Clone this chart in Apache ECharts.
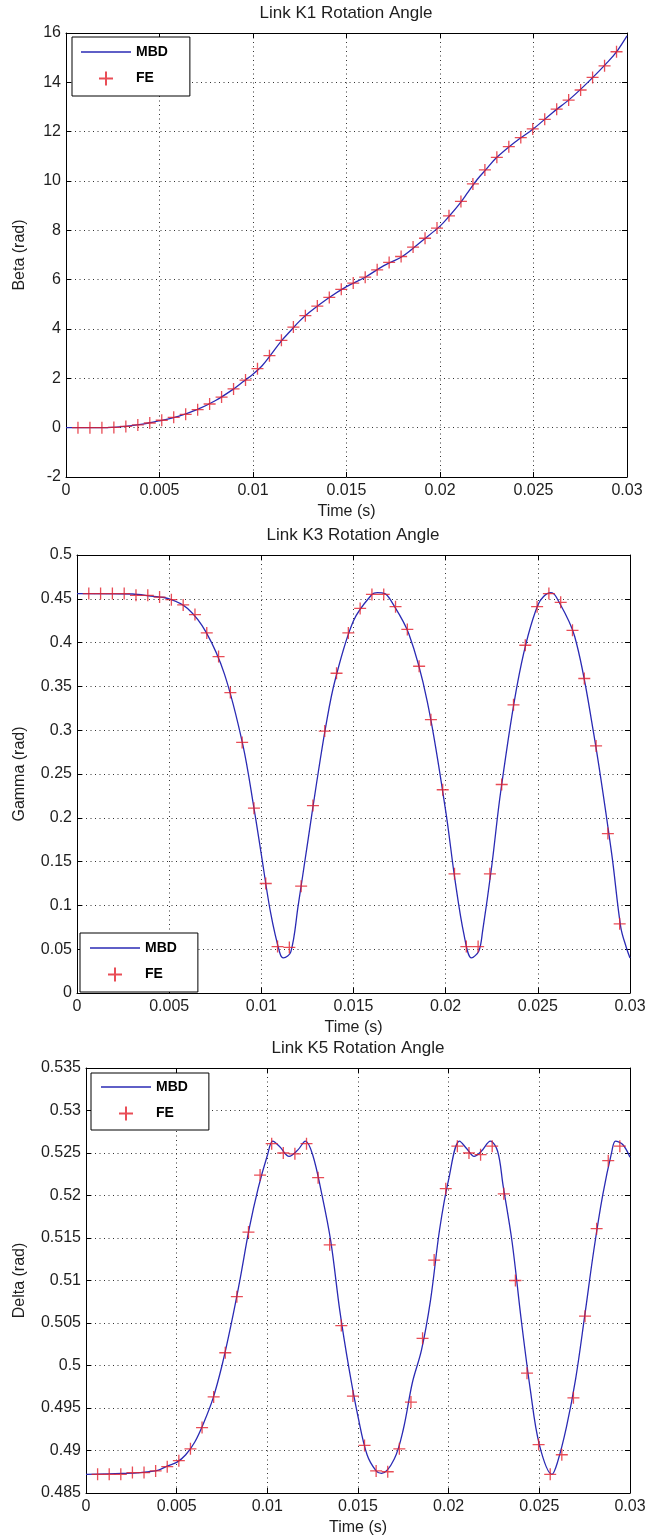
<!DOCTYPE html>
<html>
<head>
<meta charset="utf-8">
<script src="https://cdn.jsdelivr.net/npm/echarts@6/dist/echarts.min.js"></script>
<style>
html,body{margin:0;padding:0;background:#fff;}
#c{width:662px;height:1537px;}
</style>
</head>
<body>
<div id="c"></div>
<script>
// ---------- data ----------
const titles = ['Link K1 Rotation Angle', 'Link K3 Rotation Angle', 'Link K5 Rotation Angle'];
const yNames = ['Beta (rad)', 'Gamma (rad)', 'Delta (rad)'];
const xName = 'Time (s)';

// FE sample times (s)
const feTime = [0.00064,0.00128,0.00192,0.00256,0.0032,0.00384,0.00448,0.00512,0.00576,0.0064,
  0.00704,0.00768,0.00832,0.00896,0.0096,0.01024,0.01088,0.01152,0.01216,0.0128,
  0.01344,0.01408,0.01472,0.01536,0.016,0.01664,0.01728,0.01792,0.01856,0.0192,
  0.01984,0.02048,0.02112,0.02176,0.0224,0.02304,0.02368,0.02432,0.02496,0.0256,
  0.02624,0.02688,0.02752,0.02816,0.0288,0.02944];

const feBeta = [0.00,0.00,0.00,0.01,0.05,0.11,0.19,0.30,0.42,0.54,
  0.73,0.96,1.24,1.57,1.93,2.39,2.92,3.54,4.08,4.54,
  4.93,5.28,5.61,5.86,6.10,6.40,6.70,6.94,7.32,7.68,
  8.09,8.59,9.17,9.88,10.45,10.96,11.39,11.76,12.11,12.50,
  12.91,13.28,13.69,14.20,14.67,15.24];

const feGamma = [0.456,0.456,0.456,0.456,0.454,0.454,0.452,0.449,0.443,0.432,
  0.411,0.384,0.343,0.286,0.211,0.125,0.053,0.052,0.122,0.214,
  0.299,0.365,0.411,0.439,0.455,0.455,0.441,0.415,0.373,0.312,
  0.232,0.136,0.053,0.053,0.136,0.238,0.329,0.397,0.441,0.456,
  0.446,0.414,0.359,0.282,0.182,0.079];

const feDelta = [0.4872,0.4872,0.4872,0.4874,0.4874,0.4876,0.4881,0.4888,0.4902,0.4927,
  0.4963,0.5015,0.5081,0.5157,0.5224,0.5261,0.5250,0.5249,0.5261,0.5221,
  0.5142,0.5047,0.4964,0.4906,0.4876,0.4875,0.4902,0.4957,0.5032,0.5124,
  0.5208,0.5258,0.5250,0.5248,0.5258,0.5202,0.5100,0.4991,0.4907,0.4872,
  0.4895,0.4962,0.5058,0.5161,0.5241,0.5258];

// MBD curves
const mbdTime1 = [0,0.001,0.002,0.003,0.004,0.005,0.006,0.007,0.008,0.009,
  0.0095,0.010,0.0105,0.011,0.0115,0.012,0.0125,0.013,0.014,0.015,
  0.016,0.017,0.018,0.019,0.020,0.0205,0.021,0.0215,0.022,0.0225,
  0.023,0.024,0.025,0.026,0.027,0.028,0.029,0.0295,0.030];
const mbdBeta = [0,0,0,0.04,0.13,0.28,0.46,0.73,1.10,1.59,
  1.88,2.17,2.52,3.00,3.50,3.92,4.33,4.67,5.24,5.72,
  6.10,6.57,6.95,7.55,8.17,8.58,9.03,9.55,10.07,10.50,
  10.93,11.57,12.12,12.76,13.36,14.07,14.85,15.30,15.88];

const mbdTime2 = [0,0.003,0.004,0.005,0.006,0.007,0.008,0.009,0.0096,0.010,
  0.0105,0.011,0.0112,0.0116,0.012,0.0125,0.013,0.0135,0.014,0.015,
  0.016,0.0163,0.0167,0.017,0.018,0.019,0.020,0.0205,0.021,0.0214,
  0.0218,0.022,0.0225,0.023,0.024,0.025,0.0257,0.026,0.027,0.028,
  0.029,0.0295,0.0298,0.030];
const mbdGamma = [0.456,0.4555,0.453,0.450,0.439,0.412,0.364,0.283,0.211,0.158,
  0.092,0.046,0.040,0.047,0.10,0.17,0.24,0.305,0.357,0.425,
  0.455,0.457,0.456,0.449,0.41,0.333,0.208,0.13,0.066,0.040,
  0.048,0.07,0.145,0.232,0.365,0.443,0.457,0.452,0.407,0.30,
  0.16,0.075,0.052,0.040];

const mbdTime3 = [0,0.002,0.003,0.004,0.0045,0.005,0.0055,0.006,0.0065,0.007,
  0.0075,0.008,0.0085,0.009,0.0095,0.010,0.0103,0.0107,0.0112,0.0117,
  0.0121,0.0125,0.013,0.0135,0.014,0.0145,0.015,0.0155,0.016,0.0163,
  0.017,0.0175,0.018,0.0185,0.019,0.0195,0.020,0.0206,0.0210,0.0214,
  0.0218,0.0223,0.0227,0.023,0.0235,0.024,0.0245,0.025,0.0257,0.026,
  0.0265,0.027,0.0275,0.028,0.0285,0.029,0.0292,0.0296,0.030];
const mbdDelta = [0.4872,0.4873,0.4874,0.4877,0.4882,0.4886,0.4895,0.4910,0.4933,0.4961,
  0.5000,0.5048,0.5102,0.5161,0.5209,0.5247,0.5264,0.5257,0.5246,0.5254,
  0.5264,0.5248,0.5202,0.5146,0.5064,0.4997,0.4940,0.4895,0.4876,0.4873,
  0.4890,0.4925,0.4980,0.5018,0.5077,0.5160,0.5219,0.5264,0.5255,0.5246,
  0.5252,0.5264,0.5252,0.5212,0.5145,0.5054,0.4972,0.4907,0.4872,0.4886,
  0.4928,0.4984,0.5058,0.5135,0.5201,0.5252,0.5264,0.5260,0.5245];

// axis ranges
const xRange = {min: 0, max: 0.03, interval: 0.005};
const yRanges = [
  {min: -2, max: 16, interval: 2},
  {min: 0, max: 0.5, interval: 0.05},
  {min: 0.485, max: 0.535, interval: 0.005}
];

// ---------- layout ----------
const FONT = '"Liberation Sans", Arial, Helvetica, sans-serif';
const TXT = '#1e1e1e';
const grids = [
  {left: 66, top: 33, width: 561, height: 444},
  {left: 77, top: 555, width: 553, height: 438},
  {left: 86, top: 1068, width: 544, height: 426}
];
const titlePos = [[346, 13], [353, 535], [358, 1048]];
const yNameGap = [38, 49, 58];
const legendPos = [
  {left: 72, top: 37, padding: [8, 22, 8, 9]},
  {left: 80, top: 933, padding: [8, 21, 8, 10]},
  {left: 91, top: 1073, padding: [7, 21, 7, 10]}
];

const fmt = v => String(+(+v).toFixed(4));
const zip = (a, b) => a.map((t, i) => [t, b[i]]);
const feSeries = [feBeta, feGamma, feDelta];
const mbdSeries = [zip(mbdTime1, mbdBeta), zip(mbdTime2, mbdGamma), zip(mbdTime3, mbdDelta)];

const xAxis = [], yAxis = [], series = [], legend = [], graphic = [];
const dotted = {show: true, lineStyle: {color: '#333', width: 1, type: [1, 3.5]}};
const axLine = {show: true, onZero: false, lineStyle: {color: '#000', width: 1}};
const tick = {show: true, inside: true, length: 5, lineStyle: {color: '#000', width: 1}};
const LINE_C = '#2a2ab4';

for (let i = 0; i < 3; i++) {
  xAxis.push(Object.assign({
    type: 'value', gridIndex: i, position: 'bottom',
    name: xName, nameLocation: 'middle', nameGap: 27,
    nameTextStyle: {fontFamily: FONT, fontSize: 16, color: TXT},
    axisLine: axLine, axisTick: tick, splitLine: dotted,
    axisLabel: {fontFamily: FONT, fontSize: 16, color: TXT, margin: 6, formatter: fmt}
  }, xRange));
  xAxis.push(Object.assign({
    type: 'value', gridIndex: i, position: 'top',
    axisLine: axLine, axisTick: tick, splitLine: {show: false}, axisLabel: {show: false}
  }, xRange));
  yAxis.push(Object.assign({
    type: 'value', gridIndex: i, position: 'left',
    name: yNames[i], nameLocation: 'middle', nameGap: yNameGap[i],
    nameTextStyle: {fontFamily: FONT, fontSize: 16, color: TXT},
    axisLine: axLine, axisTick: tick, splitLine: dotted,
    axisLabel: {fontFamily: FONT, fontSize: 16, color: TXT, margin: 5, formatter: fmt}
  }, yRanges[i]));
  yAxis.push(Object.assign({
    type: 'value', gridIndex: i, position: 'right',
    axisLine: axLine, axisTick: tick, splitLine: {show: false}, axisLabel: {show: false}
  }, yRanges[i]));

  series.push({
    name: 'MBD', type: 'line', xAxisIndex: 2 * i, yAxisIndex: 2 * i,
    data: mbdSeries[i], symbol: 'none', showSymbol: false, smooth: 0.35, z: 3,
    lineStyle: {color: LINE_C, width: 1.3}, itemStyle: {color: LINE_C}
  });
  series.push({
    name: 'FE', type: 'scatter', xAxisIndex: 2 * i, yAxisIndex: 2 * i,
    data: zip(feTime, feSeries[i]),
    symbol: 'path://M0 6L12 6M6 0L6 12', symbolSize: 12, symbolKeepAspect: true, z: 4,
    itemStyle: {color: 'none', borderColor: '#e4202c', borderWidth: 1.3}
  });

  legend.push({
    orient: 'vertical', left: legendPos[i].left, top: legendPos[i].top,
    padding: legendPos[i].padding, itemGap: 10, itemWidth: 50, itemHeight: 14,
    backgroundColor: '#fff', borderColor: '#000', borderWidth: 1, borderRadius: 0,
    selectedMode: false, symbolKeepAspect: true,
    data: [
      {name: 'MBD', icon: 'path://M0 0H50V1.3H0Z', itemStyle: {color: LINE_C, borderWidth: 0}},
      {name: 'FE'}
    ],
    textStyle: {fontFamily: FONT, fontSize: 14, fontWeight: 'bold', color: '#000'}
  });

  graphic.push({
    type: 'text', x: titlePos[i][0], y: titlePos[i][1], z: 10,
    style: {text: titles[i], font: '17px ' + FONT, fill: TXT, align: 'center', verticalAlign: 'middle'}
  });
}

const chart = echarts.init(document.getElementById('c'), null, {renderer: 'canvas'});
chart.setOption({
  animation: false,
  backgroundColor: '#fff',
  grid: grids.map(g => Object.assign({containLabel: false}, g)),
  xAxis, yAxis, series, legend, graphic
});
</script>
</body>
</html>
